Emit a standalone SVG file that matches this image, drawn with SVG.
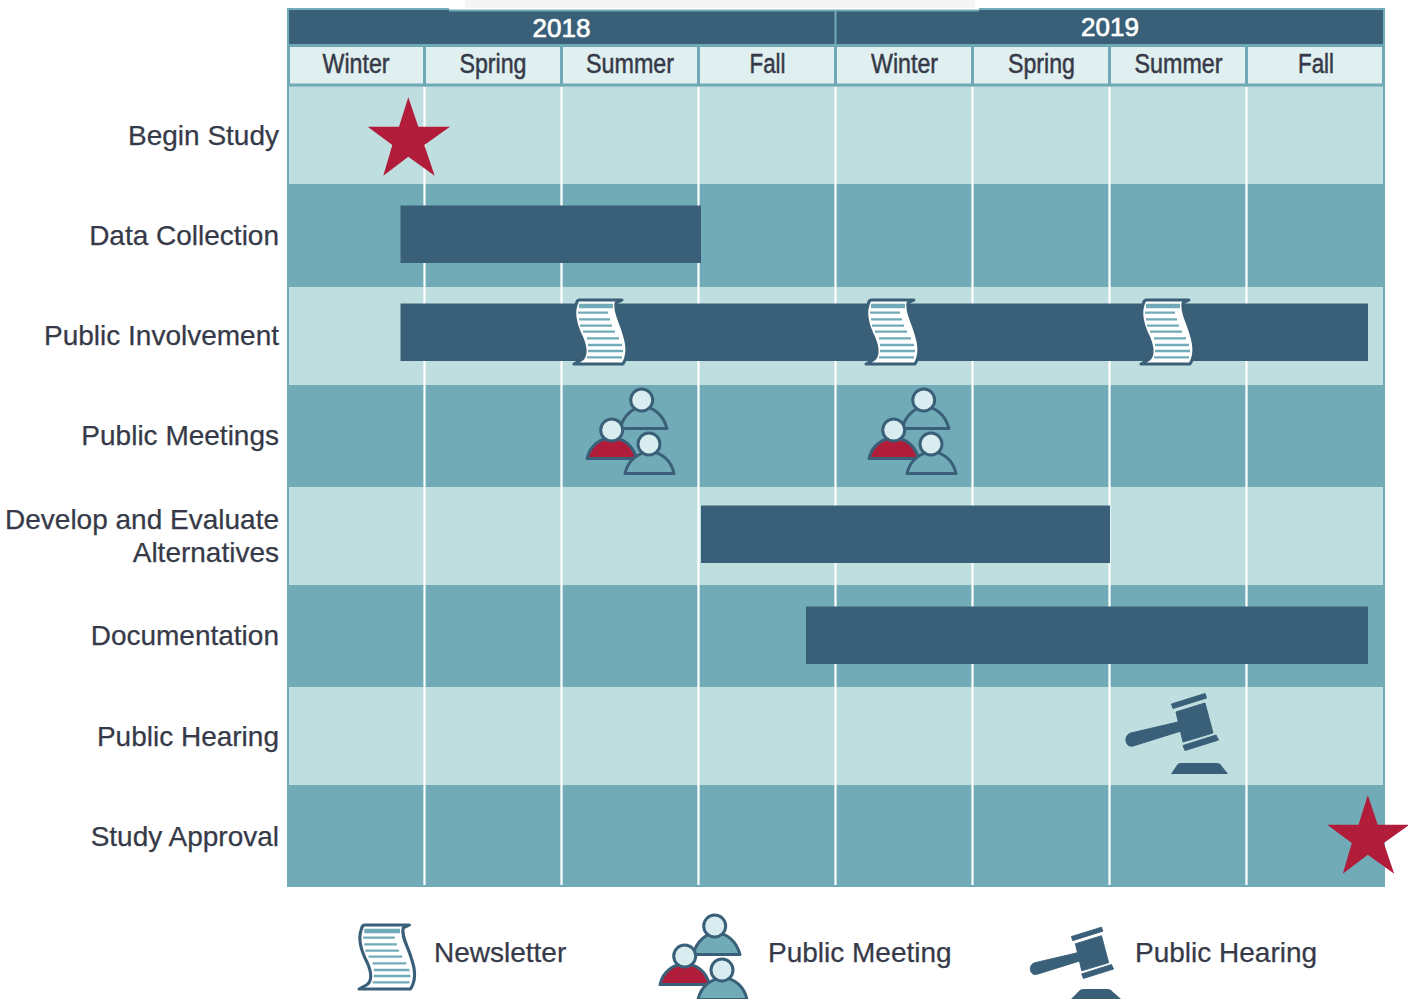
<svg xmlns="http://www.w3.org/2000/svg" width="1408" height="999" viewBox="0 0 1408 999">
<style>
.lt{fill:#bfdedf}.dk{fill:#70abb7}.bar{fill:#3a6079}
.grid{stroke:#fff;stroke-width:2.2;fill:none}
.season{fill:#e0eff0;stroke:#6fa9b6;stroke-width:3}
.st{font-family:"Liberation Sans",Arial,sans-serif;font-size:27px;fill:#363a48;text-anchor:middle;stroke:#363a48;stroke-width:.5}
.yr{font-family:"Liberation Sans",Arial,sans-serif;font-size:26px;fill:#fff;text-anchor:middle;stroke:#fff;stroke-width:.7}
.lb{font-family:"Liberation Sans",Arial,sans-serif;font-size:28px;fill:#363a48;text-anchor:end;stroke:#363a48;stroke-width:.25}
.lg{font-family:"Liberation Sans",Arial,sans-serif;font-size:28px;fill:#363a48;stroke:#363a48;stroke-width:.25}
.star{fill:#b01c3a}
.paper{fill:#fff;stroke:#3a6079;stroke-width:3;stroke-linejoin:round}
.pl{stroke:#70abb7;stroke-width:2.3;fill:none}
.body{fill:#70abb7;stroke:#3a6079;stroke-width:3;stroke-linejoin:round}
.red{fill:#b01c3a;stroke:#3a6079;stroke-width:3;stroke-linejoin:round}
.head{fill:#d9ecef;stroke:#3a6079;stroke-width:3}
</style>
<defs>
<polygon id="star" class="star" points="408.3,97.3 418.3,126.7 450,126.7 424.3,145 434.7,175.7 408.3,156.7 383.3,175.7 392.3,145 367.7,126.7 399,126.7"/>
<g id="paper">
<path class="paper" d="M6,2 H49 L43,5 C41,14 48,24 51,36 C55,48 55,58 50,66 H1 L8,62 C14,58 13,50 9,40 C3,28 0,16 3,7 C3.5,4 5,2 6,2Z"/>
<path d="M6,8H40" stroke="#70abb7" stroke-width="4.5" fill="none"/>
<path class="pl" d="M5,14.7H35M6,21.3H37M7,27.7H39M10,33.7H42M14,40.3H46M15,47H49M15,53H50M14,59.3H49"/>
</g>
<g id="people">
<path class="body" d="M620,428.5C624,414 634,407 643,407C653,407 663,414 667,428.5Z"/>
<circle class="head" cx="641.7" cy="400" r="11"/>
<path class="red" d="M587,458.5C590,445 601,438 612,438C623,438 633,445 636.500,458.500Z"/>
<circle class="head" cx="611.700" cy="430" r="11"/>
<path class="body" d="M625,473.500C628,460 639,452 650,452C661,452 671,460 674,473.500Z"/>
<circle class="head" cx="649" cy="444" r="11"/>
</g>
<g id="gavel" fill="#3a6079" stroke="#3a6079" stroke-width="1" stroke-linejoin="round">
<polygon points="1176,712 1205,703 1213,733 1183,742"/>
<polygon points="1171.500,704 1205,693.500 1206.500,698 1173,708.500"/>
<polygon points="1183,745.500 1216,735 1218.500,740 1185,750.500"/>
<path d="M1131,733L1178,722L1181,731L1133,746C1125,748 1123,735 1131,733Z"/>
</g>
</defs>
<rect width="1408" height="999" fill="#fff"/>
<g id="chart-grid">
<rect x="287" y="85" width="1098" height="802" fill="#70abb7"/>
<rect class="lt" x="289" y="85" width="1094" height="99"/>
<rect class="dk" x="287" y="184" width="1098" height="103"/>
<rect class="lt" x="289" y="287" width="1094" height="98"/>
<rect class="dk" x="287" y="385" width="1098" height="102"/>
<rect class="lt" x="289" y="487" width="1094" height="98"/>
<rect class="dk" x="287" y="585" width="1098" height="102"/>
<rect class="lt" x="289" y="687" width="1094" height="98"/>
<rect class="dk" x="287" y="785" width="1098" height="102"/>
<path class="grid" d="M424.500,85V885M561.500,85V885M698.500,85V885M835.500,85V885M972.500,85V885M1109.500,85V885M1246.500,85V885"/>
</g>
<g id="header">
<rect x="465" y="0" width="510" height="8" fill="#f4f4f4"/>
<path d="M287,8H449V10H979V8H1385V46H287Z" fill="#3a6079"/>
<path d="M288,46V9H449M449,10.500H979M979,9H1384V46" fill="none" stroke="#70abb7" stroke-width="2"/>
<path d="M835.500,10V46" stroke="#70abb7" stroke-width="2"/>
<text class="yr" x="561.500" y="36.500">2018</text>
<text class="yr" x="1110" y="35.500">2019</text>
<rect class="season" x="288.500" y="45.500" width="136" height="39.500"/>
<rect class="season" x="424.500" y="45.500" width="137" height="39.500"/>
<rect class="season" x="561.500" y="45.500" width="137" height="39.500"/>
<rect class="season" x="698.500" y="45.500" width="137" height="39.500"/>
<rect class="season" x="835.500" y="45.500" width="137" height="39.500"/>
<rect class="season" x="972.500" y="45.500" width="137" height="39.500"/>
<rect class="season" x="1109.500" y="45.500" width="137" height="39.500"/>
<rect class="season" x="1246.500" y="45.500" width="137" height="39.500"/>
<text class="st" x="356" y="73" textLength="67" lengthAdjust="spacingAndGlyphs">Winter</text>
<text class="st" x="493" y="73" textLength="67" lengthAdjust="spacingAndGlyphs">Spring</text>
<text class="st" x="630" y="73" textLength="88" lengthAdjust="spacingAndGlyphs">Summer</text>
<text class="st" x="767.500" y="73" textLength="36" lengthAdjust="spacingAndGlyphs">Fall</text>
<text class="st" x="904.500" y="73" textLength="67" lengthAdjust="spacingAndGlyphs">Winter</text>
<text class="st" x="1041.500" y="73" textLength="67" lengthAdjust="spacingAndGlyphs">Spring</text>
<text class="st" x="1178.500" y="73" textLength="88" lengthAdjust="spacingAndGlyphs">Summer</text>
<text class="st" x="1316" y="73" textLength="36" lengthAdjust="spacingAndGlyphs">Fall</text>
</g>
<g id="begin-study">
<text class="lb" x="279" y="145">Begin Study</text>
<use href="#star"/>
</g>
<g id="data-collection">
<text class="lb" x="279" y="245">Data Collection</text>
<rect class="bar" x="400.500" y="205.500" width="300.500" height="57.500"/>
</g>
<g id="public-involvement">
<text class="lb" x="279" y="345">Public Involvement</text>
<rect class="bar" x="400.500" y="303.500" width="967.500" height="57.500"/>
<use href="#paper" transform="translate(573,298)"/>
<use href="#paper" transform="translate(865,298)"/>
<use href="#paper" transform="translate(1140,298)"/>
</g>
<g id="public-meetings">
<text class="lb" x="279" y="445">Public Meetings</text>
<use href="#people"/>
<use href="#people" transform="translate(282,0)"/>
</g>
<g id="develop-evaluate">
<text class="lb" x="279" y="529">Develop and Evaluate</text>
<text class="lb" x="279" y="562">Alternatives</text>
<rect class="bar" x="701" y="505.500" width="409" height="57.500"/>
</g>
<g id="documentation">
<text class="lb" x="279" y="645">Documentation</text>
<rect class="bar" x="806" y="606.500" width="562" height="57.500"/>
</g>
<g id="public-hearing">
<text class="lb" x="279" y="746">Public Hearing</text>
<use href="#gavel"/>
<path fill="#3a6079" d="M1171,774L1177,765Q1178,763 1181,763H1217Q1220,763 1221,765L1228,774Z"/>
</g>
<g id="study-approval">
<text class="lb" x="279" y="846">Study Approval</text>
<use href="#star" transform="translate(959.500,698)"/>
</g>
<g id="legend-newsletter">
<use href="#paper" transform="translate(358,923) scale(1.05,1)"/>
<text class="lg" x="434" y="962">Newsletter</text>
</g>
<g id="legend-meeting">
<use href="#people" transform="translate(73,526)"/>
<text class="lg" x="768" y="962">Public Meeting</text>
</g>
<g id="legend-hearing">
<use href="#gavel" transform="translate(17,303) scale(.9)"/>
<path fill="#3a6079" d="M1071,999L1078,992Q1080,989 1083,989H1108Q1111,989 1113,992L1121,999Z"/>
<text class="lg" x="1135" y="962">Public Hearing</text>
</g>
<g id="connectors"/>
</svg>
